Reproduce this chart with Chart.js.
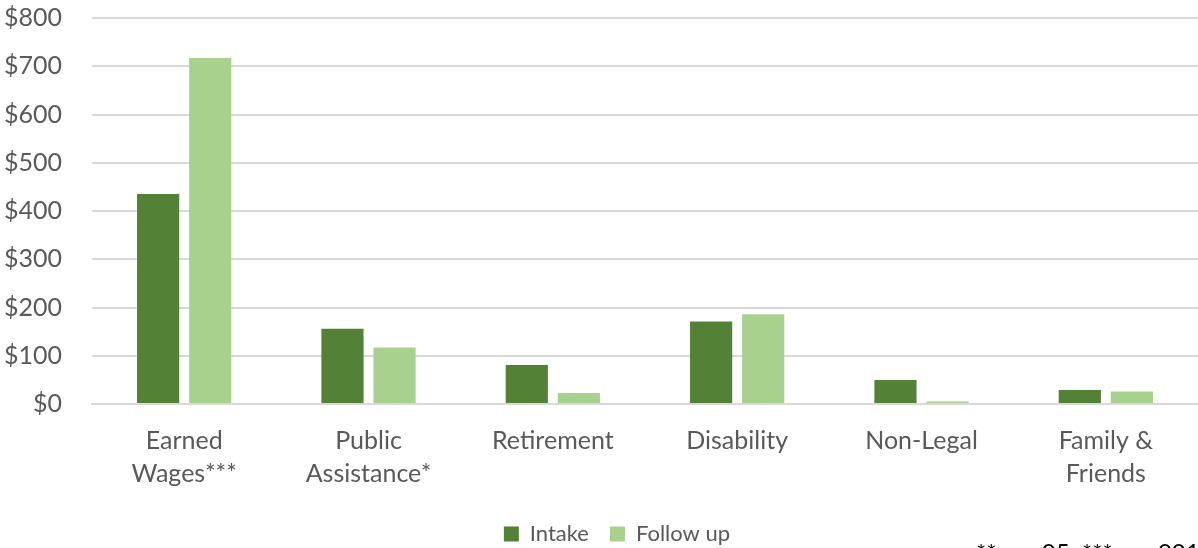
<!DOCTYPE html>
<html lang="en">
<head>
    <meta charset="UTF-8">
    <title>Monthly Income by Source</title>
    <script src="https://cdn.jsdelivr.net/npm/chart.js"></script>
    <style>
        html, body {
            margin: 0;
            padding: 0;
            background: #fff;
            overflow: hidden;
        }
        .wrap {
            position: relative;
            width: 1198px;
            height: 548px;
        }
        /* significance note, sits half off the bottom edge like the original */
        .note {
            position: absolute;
            left: 976px;
            top: 537px;
            font-family: Lato, "Open Sans", sans-serif;
            font-size: 24px;
            color: #000;
            white-space: nowrap;
        }
    </style>
</head>
<body>
    <div class="wrap">
        <canvas id="incomeChart" width="1198" height="548"></canvas>
        <div class="note">**p &lt; .05; ***p &lt; .001</div>
    </div>
    <script>
        // categories (multi-line labels)
        var categories = [
            ['Earned', 'Wages***'],
            ['Public', 'Assistance*'],
            'Retirement',
            'Disability',
            'Non-Legal',
            ['Family &', 'Friends']
        ];

        // average monthly amount in dollars
        var intake = [435, 156, 81, 171, 50, 29];
        var followUp = [717, 117, 23, 186, 5, 26];

        var yTicks = [0, 100, 200, 300, 400, 500, 600, 700, 800];

        var textColor = '#595959';
        var gridColor = '#d9d9d9';
        var font = 'Lato, "Open Sans", sans-serif';

        // legend in the original sits a bit right of the page centre
        var shiftLegend = {
            id: 'shiftLegend',
            afterLayout: function (chart) {
                chart.legend.left += 16;
                chart.legend.right += 16;
            }
        };

        var ctx = document.getElementById('incomeChart').getContext('2d');
        var incomeChart = new Chart(ctx, {
            type: 'bar',
            data: {
                labels: categories,
                datasets: [{
                    label: 'Intake',
                    data: intake,
                    backgroundColor: '#538135'
                }, {
                    label: 'Follow up',
                    data: followUp,
                    backgroundColor: '#a9d18e'
                }]
            },
            options: {
                responsive: false,
                animation: false,
                categoryPercentage: 0.565,
                barPercentage: 0.81,
                layout: {
                    padding: { top: 18, right: 0, bottom: -7, left: 4 }
                },
                plugins: {
                    tooltip: { enabled: false },
                    legend: {
                        position: 'bottom',
                        labels: {
                            font: { family: font, size: 22 },
                            color: textColor,
                            boxWidth: 15,
                            boxHeight: 15,
                            padding: 21
                        }
                    }
                },
                scales: {
                    x: {
                        grid: { display: false },
                        border: { color: gridColor, width: 2 },
                        ticks: {
                            color: textColor,
                            font: { family: font, size: 25, lineHeight: 1.32 },
                            padding: 12,
                            maxRotation: 0
                        }
                    },
                    y: {
                        min: yTicks[0],
                        max: yTicks[yTicks.length - 1],
                        afterBuildTicks: function (axis) {
                            axis.ticks = yTicks.map(function (v) { return { value: v }; });
                        },
                        afterFit: function (axis) {
                            axis.width = 88;
                        },
                        grid: {
                            color: gridColor,
                            lineWidth: 2,
                            drawTicks: true,
                            tickLength: 30,
                            tickColor: 'rgba(0,0,0,0)'
                        },
                        border: { display: false },
                        ticks: {
                            color: textColor,
                            font: { family: font, size: 25 },
                            padding: 0,
                            callback: function (v) { return '$' + v; }
                        }
                    }
                }
            },
            plugins: [shiftLegend]
        });
    </script>
</body>
</html>
